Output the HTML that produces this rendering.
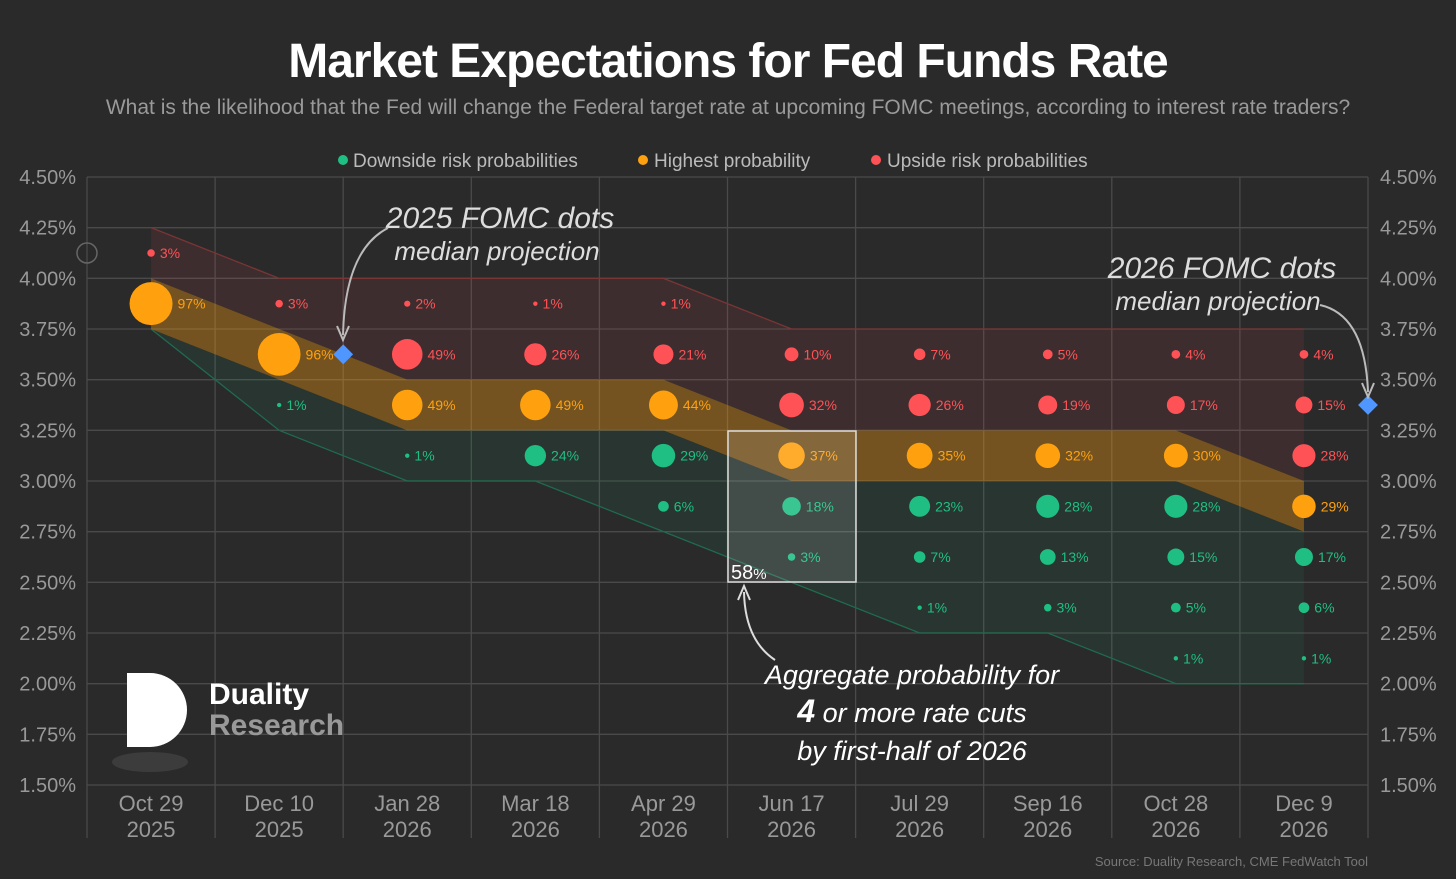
<!DOCTYPE html>
<html><head><meta charset="utf-8">
<style>
body{margin:0;background:#2a2a2a;width:1456px;height:874px;overflow:hidden;font-family:"Liberation Sans",sans-serif}
svg text{font-family:"Liberation Sans",sans-serif}
</style></head>
<body>
<svg id="chart" width="1456" height="874" xmlns="http://www.w3.org/2000/svg">
<rect width="1456" height="874" fill="#2a2a2a"/>
<text x="728" y="77" text-anchor="middle" fill="#fff" font-size="48" font-weight="bold" letter-spacing="-1">Market Expectations for Fed Funds Rate</text>
<text x="728" y="114" text-anchor="middle" fill="#9a9a9a" font-size="21">What is the likelihood that the Fed will change the Federal target rate at upcoming FOMC meetings, according to interest rate traders?</text>
<g font-size="19" fill="#bbb">
<g><circle cx="343" cy="160" r="5" fill="#1fbf83"/><text x="353" y="167">Downside risk probabilities</text></g>
<g><circle cx="643" cy="160" r="5" fill="#ffa10f"/><text x="654" y="167">Highest probability</text></g>
<g><circle cx="876" cy="160" r="5" fill="#ff5257"/><text x="887" y="167">Upside risk probabilities</text></g>
</g>
<g id="grid"></g>
<g id="bands"></g>
<g id="axes"></g>
<g id="dots"></g>
<circle cx="87" cy="253" r="10" fill="none" stroke="#666" stroke-width="1.5"/>
<g fill="#ddd" font-family="DejaVu Sans,sans-serif">
<text x="500" y="228" text-anchor="middle" font-size="30" font-style="italic" font-weight="200">2025 FOMC dots</text>
<text x="497" y="260" text-anchor="middle" font-size="26" font-style="italic">median projection</text>
<path d="M388 228 Q345 250 343 335" fill="none" stroke="#bbb" stroke-width="2"/>
<path d="M337 326 L343 340 L349 326" fill="none" stroke="#bbb" stroke-width="2"/>
</g>
<g fill="#ddd" font-family="DejaVu Sans,sans-serif">
<text x="1222" y="278" text-anchor="middle" font-size="30" font-style="italic">2026 FOMC dots</text>
<text x="1218" y="310" text-anchor="middle" font-size="26" font-style="italic">median projection</text>
<path d="M1320 305 Q1365 315 1368 392" fill="none" stroke="#bbb" stroke-width="2"/>
<path d="M1362 383 L1368 397 L1374 383" fill="none" stroke="#bbb" stroke-width="2"/>
</g>
<rect x="728" y="431" width="128" height="151" fill="rgba(255,255,255,0.12)" stroke="#ddd" stroke-width="1.5"/>
<text x="731" y="579" fill="#fff" font-size="20">58<tspan font-size="15">%</tspan></text>
<g fill="#fff" font-family="DejaVu Sans,sans-serif" text-anchor="middle" font-style="italic">
<path d="M775 660 Q745 640 744 592" fill="none" stroke="#ddd" stroke-width="2"/>
<path d="M738 600 L744 586 L750 600" fill="none" stroke="#ddd" stroke-width="2"/>
<text x="912" y="684" font-size="27">Aggregate probability for</text>
<text x="912" y="722" font-size="27"><tspan font-size="32" font-weight="bold">4</tspan> or more rate cuts</text>
<text x="912" y="760" font-size="27">by first-half of 2026</text>
</g>
<g>
<ellipse cx="150" cy="762" rx="38" ry="10" fill="#444" opacity="0.7"/>
<path d="M127 673 L150 673 A37 37 0 0 1 150 747 L127 747 Z" fill="#fff"/>
<text x="209" y="704" fill="#fff" font-size="30" font-weight="bold">Duality</text>
<text x="209" y="735" fill="#999" font-size="30" font-weight="bold">Research</text>
</g>
<text x="1368" y="866" text-anchor="end" fill="#777" font-size="13">Source: Duality Research, CME FedWatch Tool</text>
</svg>
<script>
const meetings=["Oct 29|2025","Dec 10|2025","Jan 28|2026","Mar 18|2026","Apr 29|2026","Jun 17|2026","Jul 29|2026","Sep 16|2026","Oct 28|2026","Dec 9|2026"];
const yTicks=[4.5,4.25,4.0,3.75,3.5,3.25,3.0,2.75,2.5,2.25,2.0,1.75,1.5];
const dotMeeting=[0,0, 1,1,1, 2,2,2,2, 3,3,3,3, 4,4,4,4,4, 5,5,5,5,5, 6,6,6,6,6,6, 7,7,7,7,7,7, 8,8,8,8,8,8,8, 9,9,9,9,9,9,9];
const dotRate=[4.125,3.875, 3.875,3.625,3.375, 3.875,3.625,3.375,3.125, 3.875,3.625,3.375,3.125, 3.875,3.625,3.375,3.125,2.875, 3.625,3.375,3.125,2.875,2.625, 3.625,3.375,3.125,2.875,2.625,2.375, 3.625,3.375,3.125,2.875,2.625,2.375, 3.625,3.375,3.125,2.875,2.625,2.375,2.125, 3.625,3.375,3.125,2.875,2.625,2.375,2.125];
const dotProb=[3,97, 3,96,1, 2,49,49,1, 1,26,49,24, 1,21,44,29,6, 10,32,37,18,3, 7,26,35,23,7,1, 5,19,32,28,13,3, 4,17,30,28,15,5,1, 4,15,28,29,17,6,1];
const dotType=["u","h", "u","h","d", "u","u","h","d", "u","u","h","d", "u","u","h","d","d", "u","u","h","d","d", "u","u","h","d","d","d", "u","u","h","d","d","d", "u","u","h","d","d","d","d", "u","u","u","h","d","d","d"];
const modalRate=[3.875,3.625,3.375,3.375,3.375,3.125,3.125,3.125,3.125,2.875];
const upperEdge=[4.25,4.0,4.0,4.0,4.0,3.75,3.75,3.75,3.75,3.75];
const lowerEdge=[3.75,3.25,3.0,3.0,2.75,2.5,2.25,2.25,2.0,2.0];
const dots2025=3.625, dots2026=3.375;

const X0=87,X1=1368,Y0=177,Y1=785;
const colW=(X1-X0)/meetings.length;
const xC=i=>X0+colW*(i+0.5);
const yS=r=>Y0+(4.5-r)/(4.5-1.5)*(Y1-Y0);
const NS="http://www.w3.org/2000/svg";
function mk(tag,attrs,parent){const e=document.createElementNS(NS,tag);for(const k in attrs)e.setAttribute(k,attrs[k]);parent.appendChild(e);return e;}
const grid=document.getElementById('grid'),axes=document.getElementById('axes'),bands=document.getElementById('bands'),dots=document.getElementById('dots');
yTicks.forEach(t=>{
 const l=mk('line',{x1:X0,x2:X1,y1:yS(t),y2:yS(t),stroke:'#4a4a4a','stroke-width':1.3},grid);
 
 
 const a=mk('text',{x:76,y:yS(t)+7,'text-anchor':'end',fill:'#999','font-size':20},axes);a.textContent=t.toFixed(2)+'%';
 
 
 const b=mk('text',{x:1380,y:yS(t)+7,fill:'#999','font-size':20},axes);b.textContent=t.toFixed(2)+'%';
 
 
});
for(let i=0;i<=meetings.length;i++){
 const l=mk('line',{x1:X0+colW*i,x2:X0+colW*i,y1:Y0,y2:838,stroke:'#4a4a4a','stroke-width':1.3},grid);
 
 
}
meetings.forEach((m,i)=>{const [a,b]=m.split('|');
 const t=mk('text',{x:xC(i),y:811,'text-anchor':'middle',fill:'#999','font-size':22},axes);
 
 
 mk('tspan',{x:xC(i),dy:0},t).textContent=a;mk('tspan',{x:xC(i),dy:26},t).textContent=b;});
function poly(top,bot,fill,stroke,name,strokeTop){
 let pts=[];top.forEach((r,i)=>pts.push(xC(i)+','+yS(r)));
 for(let i=bot.length-1;i>=0;i--)pts.push(xC(i)+','+yS(bot[i]));
 const p=mk('polygon',{points:pts.join(' '),fill:fill},bands);
 
 
 if(stroke){const arr=strokeTop?top:bot;mk('polyline',{points:arr.map((r,i)=>xC(i)+','+yS(r)).join(' '),fill:'none',stroke:stroke,'stroke-width':1.3},bands);}
}
const hiTop=modalRate.map(r=>r+0.125),hiBot=modalRate.map(r=>r-0.125);
poly(upperEdge,hiTop,'rgba(255,82,87,0.09)','#7a3535','upside-band',true);
poly(hiBot,lowerEdge,'rgba(31,191,131,0.08)','#1f6b4f','downside-band',false);
poly(hiTop,hiBot,'rgba(255,161,15,0.35)',null,'highest-band');
const col={u:'#ff5257',h:'#ffa10f',d:'#1fbf83'};
dotProb.forEach((p,k)=>{
 const cx=xC(dotMeeting[k]),cy=yS(dotRate[k]),r=21.5*Math.sqrt(p/97);
 const c=mk('circle',{cx:cx,cy:cy,r:r,fill:col[dotType[k]]},dots);
 
 
 const t=mk('text',{x:cx+r+5,y:cy+5,fill:col[dotType[k]],'font-size':14},dots);t.textContent=p+'%';
 
 
});
[[2,dots2025],[10,dots2026]].forEach(([xi,r])=>{const cx=X0+colW*xi,cy=yS(r);
 const d=mk('rect',{x:cx-7,y:cy-7,width:14,height:14,fill:'#4f96ff',transform:`rotate(45 ${cx} ${cy})`},dots);
 
 
});
</script>
</body></html>
